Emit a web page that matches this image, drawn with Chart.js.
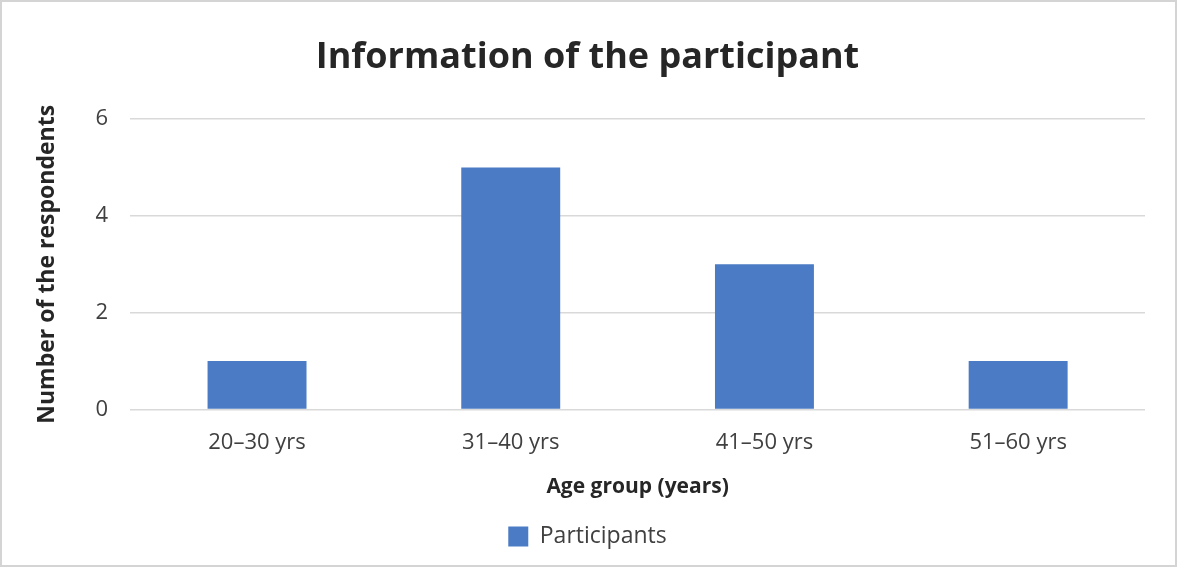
<!DOCTYPE html>
<html><head><meta charset="utf-8">
<script src="https://cdn.jsdelivr.net/npm/chart.js@4"></script>
<style>
html,body{margin:0;padding:0;background:#fff;}
#wrap{width:1177px;height:567px;box-sizing:border-box;border:2px solid #d4d4d4;position:relative;}
canvas{display:block;}
</style></head>
<body><div id="wrap"><canvas id="c"></canvas></div>
<script>
const categories = ["20–30 yrs","31–40 yrs","41–50 yrs","51–60 yrs"];
const participants = [1,5,3,1];
const yTicks = [0,2,4,6];
const seriesName = "Participants";
const titleText = "Information of the participant";
const xTitle = "Age group (years)";
const yTitle = "Number of the respondents";

const FONT = "'Open Sans','Noto Sans',sans-serif";
new Chart(document.getElementById('c'), {
  type: 'bar',
  data: { labels: categories, datasets: [{ label: seriesName, data: participants, backgroundColor: '#4a7bc4', barPercentage: 0.78, categoryPercentage: 0.5 }] },
  options: {
    responsive: true, maintainAspectRatio: false, animation: false,
    layout: { padding: { left: 28, right: 30, top: 34, bottom: 7 } },
    plugins: {
      title: { display: true, text: titleText, color: '#262626', font: { family: FONT, size: 36, weight: 'bold' }, padding: { top: 0, bottom: 40 } },
      legend: { position: 'bottom', labels: { color: '#404040', font: { family: FONT, size: 23 }, boxWidth: 20, boxHeight: 20, padding: 10 } },
      tooltip: { enabled: false }
    },
    scales: {
      x: {
        grid: { display: false }, border: { display: false },
        ticks: { color: '#404040', font: { family: FONT, size: 22 }, padding: 12 },
        title: { display: true, text: xTitle, color: '#262626', font: { family: FONT, size: 21, weight: 'bold' }, padding: { top: 7, bottom: 15 } }
      },
      y: {
        min: 0, max: 6,
        afterBuildTicks: ax => { ax.ticks = yTicks.map(v => ({ value: v })); },
        grid: { color: '#d9d9d9', lineWidth: 1.5, drawTicks: false }, border: { display: false },
        ticks: { color: '#404040', font: { family: FONT, size: 22 }, padding: 22 },
        title: { display: true, text: yTitle, color: '#262626', font: { family: FONT, size: 23, weight: 'bold' }, padding: { bottom: 12 } }
      }
    }
  }
});
</script></body></html>
